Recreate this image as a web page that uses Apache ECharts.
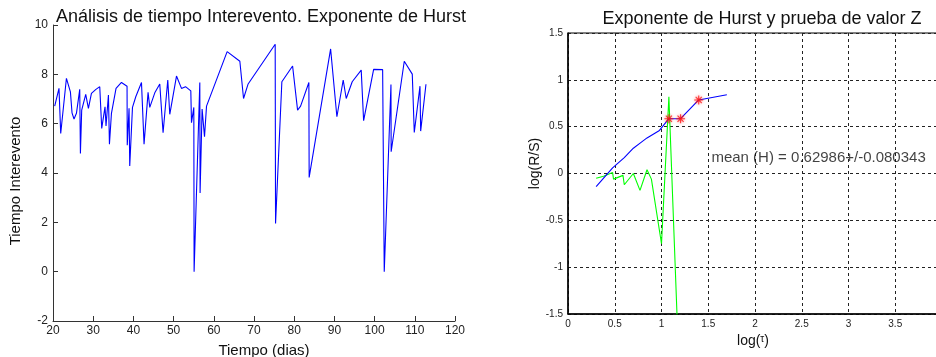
<!DOCTYPE html>
<html>
<head>
<meta charset="utf-8">
<script src="https://cdn.jsdelivr.net/npm/echarts@6/dist/echarts.min.js"></script>
<style>html,body{margin:0;padding:0;background:#fff}#c{width:936px;height:357px}</style>
</head>
<body>
<div id="c"></div>
<script>
// ---- Left chart data: interevent time series ----
const timeDays = [20.42,21.49,21.92,23.34,24.33,24.73,25.23,25.83,26.65,26.82,27.14,28.14,28.81,29.56,30.6,31.63,32.12,32.94,33.19,33.79,34.04,34.54,35.68,37.03,38.42,38.47,38.92,39.09,39.77,40.59,42.01,42.65,43.65,44.07,45.32,46.56,47.38,48.55,49.05,50.72,51.96,52.96,54.28,54.45,55.03,55.10,56.52,56.59,57.09,57.69,58.19,63.32,66.48,67.40,68.54,75.27,75.36,76.93,79.60,80.84,81.59,81.91,83.65,83.72,89.06,90.62,92.19,92.94,94.43,96.67,97.27,99.76,102.00,102.40,104.07,104.12,107.38,109.37,109.87,111.29,111.46,112.78];
const intervalTime = [6.71,7.43,5.60,7.84,7.29,6.44,6.19,6.42,7.39,4.79,6.55,7.19,6.62,7.23,7.38,7.50,5.81,6.68,5.91,7.16,5.17,6.42,7.43,7.67,7.52,5.13,6.62,4.28,6.66,7.09,7.67,5.17,7.27,6.66,7.25,7.61,5.63,7.77,6.38,7.93,7.43,7.50,7.33,6.04,6.66,0.00,7.67,3.19,6.59,5.47,6.71,8.92,8.53,7.02,7.61,9.22,1.95,7.70,8.34,6.55,6.71,6.68,7.67,3.82,9.03,6.28,7.77,7.02,7.70,8.17,6.12,8.20,8.19,0.00,7.59,4.86,8.53,8.01,5.64,7.52,5.70,7.60];

// ---- Right chart data: Hurst exponent ----
const logTau = [0.301,0.477,0.602,0.699,0.778,0.845,0.978,1.079,1.204,1.398,1.699];
const logRS  = [-0.14,0.06,0.17,0.27,0.33,0.38,0.46,0.585,0.585,0.785,0.84];
const starIdx = [7,8,9];
const zTau = [0.301,0.38,0.477,0.487,0.588,0.602,0.699,0.770,0.845,0.892,1.000,1.079,1.204];
const zVal = [-0.05,-0.03,0.01,-0.06,-0.02,-0.12,0.0,-0.18,0.04,-0.06,-0.75,0.82,-2.53];
const meanText = 'mean (H) = 0.62986+/-0.080343';
const meanPos = [1.534, 0.168];

const leftXTicks = {min:20, max:120, interval:10};
const leftYTicks = {min:-2, max:10, interval:2};
const rightXTicks = {min:0, max:4, interval:0.5};
const rightYTicks = {min:-1.5, max:1.5, interval:0.5};

const FONT = '"Liberation Sans", Arial, sans-serif';
const starPath = 'path://M4.4 0H5.6V10H4.4Z M0 4.4H10V5.6H0Z M1.2 2L2 1.2L8.8 8L8 8.8Z M8 1.2L8.8 2L2 8.8L1.2 8Z';

const chart = echarts.init(document.getElementById('c'), null, {renderer:'canvas'});
chart.setOption({
  animation: false,
  backgroundColor: '#fff',
  title: [
    {text: 'Análisis de tiempo Interevento. Exponente de Hurst', left: 256, top: 3, textAlign: 'center',
     textStyle: {fontFamily: FONT, fontSize: 18, fontWeight: 'normal', color: '#111'}},
    {text: 'Exponente de Hurst y prueba de valor Z', left: 757, top: 5, textAlign: 'center',
     textStyle: {fontFamily: FONT, fontSize: 18, fontWeight: 'normal', color: '#111'}}
  ],
  grid: [
    {left: 53, top: 25, width: 402, height: 296, containLabel: false, outerBoundsMode: 'none'},
    {left: 568, top: 33, width: 374, height: 281, show: true, borderColor: '#000', borderWidth: 1,
     containLabel: false, outerBoundsMode: 'none'}
  ],
  xAxis: [
    {gridIndex: 0, type: 'value', min: leftXTicks.min, max: leftXTicks.max, interval: leftXTicks.interval,
     name: 'Tiempo (dias)', nameLocation: 'middle', nameGap: 22,
     nameTextStyle: {fontFamily: FONT, fontSize: 15, color: '#111', padding: [0,0,0,20]},
     axisLine: {onZero: false, lineStyle: {color: '#333', width: 1}},
     axisTick: {inside: true, length: 5, lineStyle: {color: '#333'}},
     axisLabel: {margin: 4, fontFamily: FONT, fontSize: 12, color: '#222'},
     splitLine: {show: false}},
    {gridIndex: 1, type: 'value', min: rightXTicks.min, max: rightXTicks.max, interval: rightXTicks.interval,
     name: '{a|log(}{b|τ}{a|)}', nameLocation: 'middle', nameGap: 20,
     nameTextStyle: {fontFamily: FONT, fontSize: 14, color: '#111', padding: [0,4,0,0],
       rich: {a: {fontFamily: FONT, fontSize: 14, color: '#111'},
              b: {fontFamily: FONT, fontSize: 10, color: '#111', verticalAlign: 'top', padding: [0,0,2,0]}}},
     axisLine: {onZero: false, lineStyle: {color: '#000', width: 1.5}},
     axisTick: {show: false},
     axisLabel: {margin: 5, fontFamily: FONT, fontSize: 10, color: '#222', showMaxLabel: false},
     splitLine: {show: true, lineStyle: {color: '#222', type: [3,3], width: 1}}}
  ],
  yAxis: [
    {gridIndex: 0, type: 'value', min: leftYTicks.min, max: leftYTicks.max, interval: leftYTicks.interval,
     name: 'Tiempo Interevento', nameLocation: 'middle', nameGap: 30,
     nameTextStyle: {fontFamily: FONT, fontSize: 15, color: '#111', padding: [0,16,0,0]},
     axisLine: {show: true, onZero: false, lineStyle: {color: '#333', width: 1}},
     axisTick: {show: true, inside: true, length: 5, lineStyle: {color: '#333'}},
     axisLabel: {margin: 5, fontFamily: FONT, fontSize: 12, color: '#222'},
     splitLine: {show: false}},
    {gridIndex: 1, type: 'value', min: rightYTicks.min, max: rightYTicks.max, interval: rightYTicks.interval,
     name: 'log(R/S)', nameLocation: 'middle', nameGap: 25,
     nameTextStyle: {fontFamily: FONT, fontSize: 14, color: '#111', padding: [0,0,0,20]},
     axisLine: {show: true, onZero: false, lineStyle: {color: '#000', width: 1.5}},
     axisTick: {show: false},
     axisLabel: {margin: 5, fontFamily: FONT, fontSize: 10, color: '#222'},
     splitLine: {show: true, lineStyle: {color: '#222', type: [3,3], width: 1}}}
  ],
  series: [
    {type: 'line', xAxisIndex: 0, yAxisIndex: 0, symbol: 'none',
     data: timeDays.map((t,i) => [t, intervalTime[i]]),
     lineStyle: {color: '#0000ff', width: 1.1}},
    {type: 'line', xAxisIndex: 1, yAxisIndex: 1, symbol: 'none', clip: true,
     data: zTau.map((t,i) => [t, zVal[i]]),
     lineStyle: {color: '#00ff00', width: 1.1}, z: 2},
    {type: 'line', xAxisIndex: 1, yAxisIndex: 1, symbol: 'none',
     data: logTau.map((t,i) => [t, logRS[i]]),
     lineStyle: {color: '#0000ff', width: 1.1}, z: 3},
    {type: 'scatter', xAxisIndex: 1, yAxisIndex: 1, symbol: starPath, symbolSize: 9,
     data: starIdx.map(i => [logTau[i], logRS[i]]),
     itemStyle: {color: '#ff1010', shadowBlur: 3, shadowColor: 'rgba(255,0,0,0.6)'}, z: 4},
    {type: 'scatter', xAxisIndex: 1, yAxisIndex: 1, symbolSize: 0, silent: true,
     data: [meanPos],
     label: {show: true, position: 'right', distance: 0, formatter: meanText,
             fontFamily: FONT, fontSize: 15, color: '#111'}, z: 5}
  ]
});
</script>
</body>
</html>
